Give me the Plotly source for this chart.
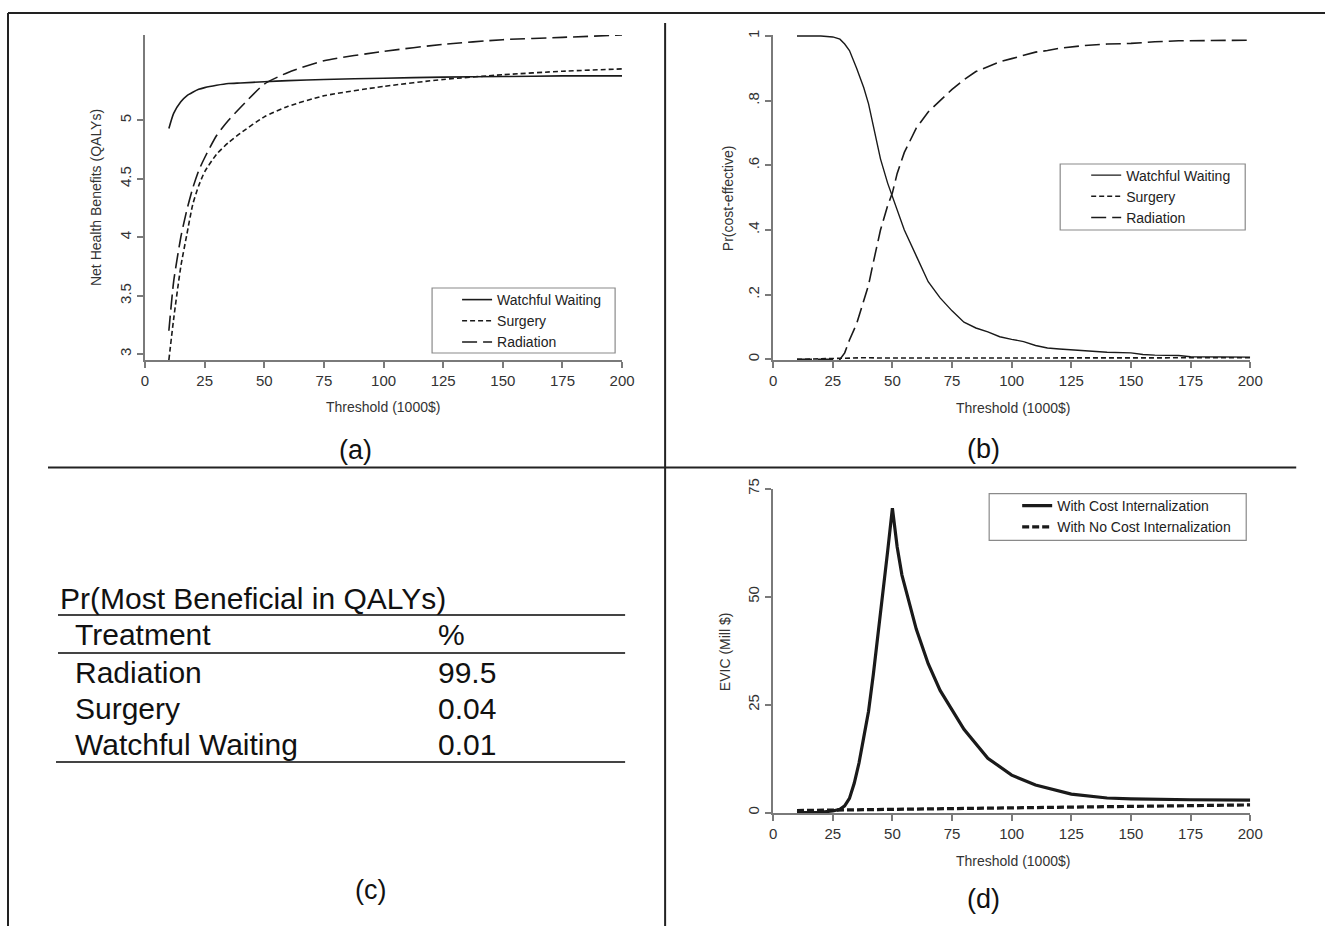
import plotly.graph_objects as go

W, H = 1325, 926
FONT = "Liberation Sans, Arial, sans-serif"
INK = "#1a1a1a"
AX = "#7a7a7a"

# ---------------- Panel (a): Net health benefits ----------------
thr_a = [10, 12, 15, 17.5, 20, 22.5, 25, 30, 35, 40, 50, 60, 75, 100, 125, 150, 175, 200]
nhb_ww = [4.93, 5.06, 5.16, 5.21, 5.24, 5.265, 5.28, 5.30, 5.315, 5.32, 5.33, 5.34, 5.35, 5.36, 5.37, 5.375, 5.38, 5.38]
nhb_surg = [2.95, 3.30, 3.75, 4.02, 4.28, 4.44, 4.56, 4.71, 4.81, 4.89, 5.03, 5.12, 5.21, 5.29, 5.35, 5.39, 5.42, 5.44]
nhb_rad = [3.20, 3.62, 4.00, 4.23, 4.42, 4.57, 4.68, 4.87, 5.00, 5.11, 5.31, 5.41, 5.51, 5.59, 5.65, 5.69, 5.71, 5.73]

# ---------------- Panel (b): Pr(cost-effective) ----------------
thr_b = [10, 20, 25, 28, 30, 32, 35, 38, 40, 42, 45, 48, 50, 52, 55, 60, 65, 70, 75, 80, 85, 90,
         95, 100, 105, 110, 115, 120, 130, 140, 150, 155, 160, 170, 175, 185, 200]
pr_ww = [1.0, 1.0, 0.997, 0.99, 0.975, 0.955, 0.90, 0.84, 0.79, 0.72, 0.62, 0.545, 0.505, 0.46, 0.40,
         0.32, 0.24, 0.19, 0.15, 0.115, 0.097, 0.085, 0.07, 0.062, 0.055, 0.043, 0.035, 0.032, 0.026,
         0.022, 0.020, 0.015, 0.013, 0.012, 0.008, 0.007, 0.007]
pr_surg = [0.0, 0.002, 0.004, 0.005, 0.005, 0.005, 0.006, 0.005, 0.005, 0.004, 0.004, 0.004, 0.004, 0.004,
           0.004, 0.004, 0.004, 0.004, 0.004, 0.004, 0.004, 0.004, 0.004, 0.004, 0.004, 0.004, 0.004,
           0.004, 0.004, 0.004, 0.004, 0.004, 0.005, 0.005, 0.005, 0.005, 0.005]
pr_rad = [0.0, 0.0, 0.0, 0.0, 0.02, 0.06, 0.11, 0.18, 0.23, 0.30, 0.40, 0.475, 0.515, 0.575, 0.64,
          0.715, 0.765, 0.80, 0.835, 0.865, 0.89, 0.905, 0.92, 0.93, 0.94, 0.95, 0.955, 0.962, 0.97,
          0.975, 0.977, 0.98, 0.982, 0.985, 0.985, 0.986, 0.987]

# ---------------- Panel (c): table ----------------
table_title = "Pr(Most Beneficial in QALYs)"
table_header = ["Treatment", "%"]
treatments = ["Radiation", "Surgery", "Watchful Waiting"]
pct_best = ["99.5", "0.04", "0.01"]

# ---------------- Panel (d): EVIC ----------------
thr_d = [10, 20, 25, 28, 30, 32, 34, 36, 38, 40, 42, 44, 46, 48, 50, 52, 54, 56, 58, 60, 65, 70, 75,
         80, 90, 100, 110, 125, 140, 150, 175, 200]
evic_with = [0.0, 0.1, 0.4, 0.8, 1.6, 3.3, 6.8, 11.5, 17.5, 23.5, 32.0, 41.0, 51.0, 60.5, 70.5, 61.5,
             55.0, 51.0, 47.0, 42.5, 34.5, 28.3, 23.8, 19.3, 12.6, 8.7, 6.4, 4.3, 3.4, 3.2, 3.0, 2.9]
thr_d2 = [10, 25, 50, 75, 100, 125, 150, 175, 200]
evic_without = [0.5, 0.6, 0.8, 1.0, 1.2, 1.35, 1.5, 1.65, 1.8]

x_ticks = [0, 25, 50, 75, 100, 125, 150, 175, 200]
a_yticks = [3, 3.5, 4, 4.5, 5]
a_ytext = ["3", "3.5", "4", "4.5", "5"]
b_yticks = [0, 0.2, 0.4, 0.6, 0.8, 1]
b_ytext = ["0", ".2", ".4", ".6", ".8", "1"]
d_yticks = [0, 25, 50, 75]

# compensation for the capture offset/scale observed in the render
SC, OX, OY = 0.987, 4.0, 10.0


def px(v):
    return ((v - OX) / SC) / W


def py(v):
    return 1 - ((v - OY) / SC) / H


SOLID = "solid"
SHORT = "5px,3px"
LONG = "15px,6px"

fig = go.Figure()

# Panel (a)
fig.add_trace(go.Scatter(x=thr_a, y=nhb_ww, mode="lines", name="Watchful Waiting",
                         line=dict(color=INK, width=1.6, dash=SOLID, shape="spline", smoothing=0.6),
                         xaxis="x", yaxis="y", legend="legend"))
fig.add_trace(go.Scatter(x=thr_a, y=nhb_surg, mode="lines", name="Surgery",
                         line=dict(color=INK, width=1.6, dash=SHORT, shape="spline", smoothing=0.6),
                         xaxis="x", yaxis="y", legend="legend"))
fig.add_trace(go.Scatter(x=thr_a, y=nhb_rad, mode="lines", name="Radiation",
                         line=dict(color=INK, width=1.6, dash=LONG, shape="spline", smoothing=0.6),
                         xaxis="x", yaxis="y", legend="legend"))

# Panel (b)
fig.add_trace(go.Scatter(x=thr_b, y=pr_ww, mode="lines", name="Watchful Waiting",
                         line=dict(color=INK, width=1.4, dash=SOLID),
                         xaxis="x2", yaxis="y2", legend="legend2"))
fig.add_trace(go.Scatter(x=thr_b, y=pr_surg, mode="lines", name="Surgery",
                         line=dict(color=INK, width=1.6, dash=SHORT),
                         xaxis="x2", yaxis="y2", legend="legend2"))
fig.add_trace(go.Scatter(x=thr_b, y=pr_rad, mode="lines", name="Radiation",
                         line=dict(color=INK, width=1.6, dash=LONG),
                         xaxis="x2", yaxis="y2", legend="legend2"))

# Panel (d)
fig.add_trace(go.Scatter(x=thr_d, y=evic_with, mode="lines", name="With Cost Internalization",
                         line=dict(color=INK, width=3.2, dash=SOLID),
                         xaxis="x3", yaxis="y3", legend="legend3"))
fig.add_trace(go.Scatter(x=thr_d2, y=evic_without, mode="lines", name="With No Cost Internalization",
                         line=dict(color=INK, width=3.2, dash="7px,3px"),
                         xaxis="x3", yaxis="y3", legend="legend3"))

axis_common = dict(showline=True, linecolor=AX, linewidth=1.5, ticks="outside", ticklen=6,
                   tickcolor=AX, tickwidth=1.5, showgrid=False, zeroline=False,
                   tickfont=dict(family=FONT, size=15, color="#333333"))

xdom_a = [px(145), px(622)]
xdom_b = [px(773), px(1250)]
ydom_top = [py(359), py(34)]
ydom_d = [py(812.3), py(487.7)]

legend_common = dict(bgcolor="rgba(0,0,0,0)", borderwidth=0,
                     font=dict(family=FONT, size=14, color="#222222"),
                     xanchor="left", yanchor="top", tracegroupgap=0, itemwidth=30)

fig.update_layout(
    width=W, height=H, margin=dict(l=0, r=0, t=0, b=0),
    paper_bgcolor="white", plot_bgcolor="white",
    font=dict(family=FONT, color="#333333"),
    xaxis=dict(domain=xdom_a, range=[0, 200], tickvals=x_ticks, anchor="y", **axis_common),
    yaxis=dict(domain=ydom_top, range=[2.95, 5.73], tickvals=a_yticks, ticktext=a_ytext,
               tickangle=-90, anchor="x", **axis_common),
    xaxis2=dict(domain=xdom_b, range=[0, 200], tickvals=x_ticks, anchor="y2", **axis_common),
    yaxis2=dict(domain=ydom_top, range=[-0.002, 1.003], tickvals=b_yticks, ticktext=b_ytext,
                tickangle=-90, anchor="x2", **axis_common),
    xaxis3=dict(domain=xdom_b, range=[0, 200], tickvals=x_ticks, anchor="y3", **axis_common),
    yaxis3=dict(domain=ydom_d, range=[-0.15, 75], tickvals=d_yticks,
                tickangle=-90, anchor="x3", **axis_common),
    legend=dict(x=px(457), y=py(283), **legend_common),
    legend2=dict(x=px(1086), y=py(158.5), **legend_common),
    legend3=dict(x=px(1017), y=py(489), **legend_common),
)

ann = []
# axis titles
for text, x, y, ang in [
    ("Threshold (1000$)", 383, 406, 0),
    ("Threshold (1000$)", 1013, 407, 0),
    ("Threshold (1000$)", 1013, 860, 0),
    ("Net Health Benefits (QALYs)", 96, 197, -90),
    ("Pr(cost-effective)", 728, 197, -90),
    ("EVIC (Mill $)", 725, 651, -90),
]:
    ann.append(dict(text=text, x=px(x), y=py(y), xref="paper", yref="paper", showarrow=False,
                    textangle=ang, xanchor="center", yanchor="middle",
                    font=dict(family=FONT, size=14, color="#333333")))

# panel labels
for text, x, y in [("(a)", 355, 449), ("(b)", 983, 448), ("(c)", 370, 889), ("(d)", 983, 898)]:
    ann.append(dict(text=text, x=px(x), y=py(y), xref="paper", yref="paper", showarrow=False,
                    xanchor="center", yanchor="middle", font=dict(family=FONT, size=27, color="#111111")))

# table (c)
tfont = dict(family=FONT, size=30, color="#111111")
ann.append(dict(text=table_title, x=px(58), y=py(597), xref="paper", yref="paper", showarrow=False,
                xanchor="left", yanchor="middle", font=tfont))
col_x = [73, 436]
for j, h in enumerate(table_header):
    ann.append(dict(text=h, x=px(col_x[j]), y=py(633), xref="paper", yref="paper", showarrow=False,
                    xanchor="left", yanchor="middle", font=tfont))
row_y0, row_dy = 671, 36
for i, (t, p) in enumerate(zip(treatments, pct_best)):
    yy = row_y0 + i * row_dy
    ann.append(dict(text=t, x=px(col_x[0]), y=py(yy), xref="paper", yref="paper", showarrow=False,
                    xanchor="left", yanchor="middle", font=tfont))
    ann.append(dict(text=p, x=px(col_x[1]), y=py(yy), xref="paper", yref="paper", showarrow=False,
                    xanchor="left", yanchor="middle", font=tfont))

shapes = []
# legend frames
for x0, y0, x1, y1 in [(432, 287, 615, 352), (1060, 163, 1245, 229), (989, 492.7, 1246, 539.3)]:
    shapes.append(dict(type="rect", xref="paper", yref="paper", x0=px(x0), x1=px(x1), y0=py(y0), y1=py(y1),
                       line=dict(color="#8a8a8a", width=1.2), fillcolor="white", layer="above"))
# table rules
for x0, x1, y in [(58, 625, 614), (58, 625, 652), (56, 625, 761)]:
    shapes.append(dict(type="line", xref="paper", yref="paper", x0=px(x0), x1=px(x1), y0=py(y), y1=py(y),
                       line=dict(color="#444444", width=2)))
# frame and dividers
for x0, y0, x1, y1 in [(8, 12, 1330, 12), (8, 12, 8, 935), (665, 22, 665, 935), (48, 466.5, 1296, 466.5)]:
    shapes.append(dict(type="line", xref="paper", yref="paper", x0=px(x0), x1=px(x1), y0=py(y0), y1=py(y1),
                       line=dict(color="#222222", width=2)))

fig.update_layout(annotations=ann, shapes=shapes)

fig.write_html(
    "out.html",
    config={"displayModeBar": False},
    post_script="document.body.style.margin='0';document.body.style.padding='0';"
                "document.body.style.overflow='hidden';",
)
